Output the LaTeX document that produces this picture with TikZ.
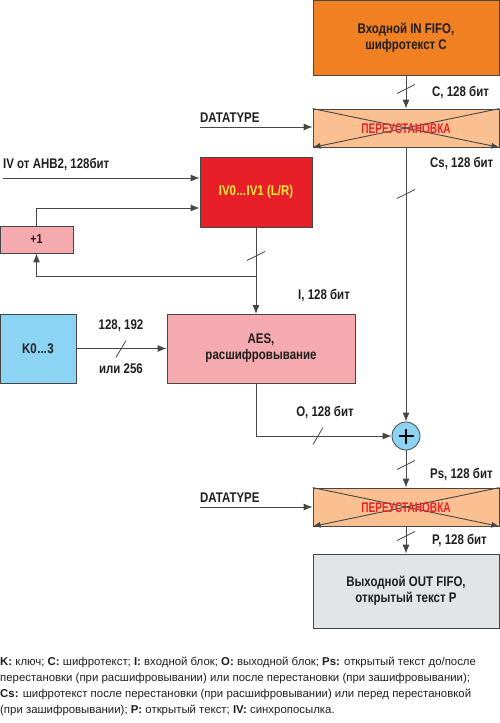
\documentclass[tikz,border=0pt]{standalone}
\usepackage{fontspec}
\setmainfont{Liberation Sans}
\newfontfamily\condfont{Liberation Sans}[FakeStretch=0.82]
\newfontfamily\ncondfont{Liberation Sans}[FakeStretch=0.72]
\usetikzlibrary{arrows.meta}
\definecolor{cOrange}{RGB}{240,128,34}
\definecolor{cPeach}{RGB}{250,192,145}
\definecolor{cRed}{RGB}{232,30,40}
\definecolor{cPink}{RGB}{245,170,175}
\definecolor{cBlue}{RGB}{140,212,244}
\definecolor{cGray}{RGB}{226,229,231}
\definecolor{cLine}{RGB}{70,70,70}
\definecolor{cYel}{RGB}{255,236,60}
\definecolor{cTxtRed}{RGB}{230,35,40}
\definecolor{cTxt}{RGB}{30,30,30}
\tikzset{
  blk/.style={draw=cLine, line width=0.8pt, inner sep=0pt, align=center, text=cTxt, font=\condfont\bfseries\fontsize{14}{16}\selectfont},
  lab/.style={font=\condfont\bfseries\fontsize{14}{16}\selectfont, inner sep=0pt, text=cTxt},
  conn/.style={draw=cLine, line width=0.9pt, -{Latex[length=9pt,width=7pt]}},
  wire/.style={draw=cLine, line width=0.9pt},
  slashv/.style={draw=cLine, line width=0.8pt},
}
\begin{document}
\begin{tikzpicture}[x=1pt,y=-1pt]
\useasboundingbox (0,0) rectangle (500,723);
% blocks
\node[blk, fill=cOrange, minimum width=186pt, minimum height=75pt] (inf) at (406,37.5) {Входной IN FIFO,\\шифротекст C};
\node[blk, fill=cPeach, minimum width=186pt, minimum height=38pt] (perm1) at (406,128) {};
\node[blk, fill=cRed, minimum width=112pt, minimum height=70pt, text=cYel] (iv) at (256,192) {IV0\kern0.5pt...\kern0.5pt IV1 (L/R)};
\node[blk, fill=cPink, minimum width=73pt, minimum height=27pt, font=\condfont\bfseries\fontsize{13}{15}\selectfont] (inc) at (36.5,239.5) {+1};
\node[blk, fill=cBlue, minimum width=76pt, minimum height=69pt] (key) at (38,348.5) {K0\kern0.5pt...\kern0.5pt3};
\node[blk, fill=cPink, minimum width=188pt, minimum height=69pt] (aes) at (261,348.5) {AES,\\расшифровывание};
\node[circle, draw=cLine, line width=0.8pt, fill=cBlue, minimum size=28pt, inner sep=0pt] (xor) at (406,436) {};
\draw[line width=2.4pt, black] ([xshift=-7.5pt]xor.center) -- ([xshift=7.5pt]xor.center) ([yshift=-7.5pt]xor.center) -- ([yshift=7.5pt]xor.center);
\node[blk, fill=cPeach, minimum width=186pt, minimum height=38pt] (perm2) at (406,507) {};
\node[blk, fill=cGray, minimum width=186pt, minimum height=74pt] (outf) at (406,591) {Выходной OUT FIFO,\\открытый текст P};
% permutation crosses
\foreach \p in {perm1,perm2}{
  \draw[wire, -{Latex[length=8pt,width=6pt]}] (\p.north west) -- (\p.south east);
  \draw[wire, -{Latex[length=8pt,width=6pt]}] (\p.north east) -- (\p.south west);
  \node[font=\ncondfont\bfseries\fontsize{14}{16}\selectfont, text=cTxtRed, inner sep=0pt] (\p t) at ([yshift=-1pt]\p.center) {ПЕРЕУСТАНОВКА};
}
% main data path
\draw[conn] (inf.south -| perm1.north) -- (perm1.north);
\draw[conn] (perm1.south) -- (xor.north);
\draw[conn] (xor.south) -- (perm2.north);
\draw[conn] (perm2.south) -- (outf.north);
% datatype
\coordinate (dt1) at (200,127);
\coordinate (dt2) at (200,507);
\draw[conn] (dt1) -- (dt1 -| perm1.west);
\draw[conn] (dt2) -- (dt2 -| perm2.west);
\node[lab, anchor=south west] (dt1l) at (200,123) {DATATYPE};
\node[lab, anchor=south west] (dt2l) at (200,503) {DATATYPE};
% IV inputs
\coordinate (ivin) at (3,178);
\draw[conn] (ivin) -- (ivin -| iv.west);
\node[lab, anchor=south west] (ivl) at (3,171) {IV от AHB2, 128бит};
\coordinate (fb1) at (inc.north |- 0,208);
\draw[conn] (inc.north) -- (fb1) -- (fb1 -| iv.west);
% IV down to AES
\coordinate (br) at (256,276);
\draw[conn] (iv.south) -- (256,314);
\draw[conn] (br) -- (br -| inc.south) -- (inc.south);
% key
\draw[conn] (key.east) -- (aes.west);
\node[lab] (kl1) at (121,326) {128, 192};
\node[lab] (kl2) at (121,369) {или 256};
% AES output
\coordinate (ao) at (256,436);
\draw[conn] (256,383) -- (ao) -- (xor.west);
\node[lab] (ol) at (325,412) {O, 128 бит};
% slashes
\foreach \yy in {89,194,465,536}{ \draw[slashv] (397,\yy+4.5) -- (415,\yy-4.5); }
\draw[slashv] (247,260.5) -- (265,251.5);
\draw[slashv] (116,357.5) -- (126,340.5);
\draw[slashv] (313,444.5) -- (323,427.5);
% labels
\node[lab, anchor=west] (cl) at (432,92) {C, 128 бит};
\node[lab, anchor=west] (csl) at (430,163) {Cs, 128 бит};
\node[lab, anchor=west] (il) at (298,295) {I, 128 бит};
\node[lab, anchor=west] (psl) at (430,474) {Ps, 128 бит};
\node[lab, anchor=west] (pl) at (432,540) {P, 128 бит};
% caption
\node[anchor=north west, align=left, inner sep=0pt, text=cTxt, font=\fontsize{11.4}{16}\selectfont] (cap) at (0,657) {%
\textbf{K:} ключ; \textbf{C:} шифротекст; \textbf{I:} входной блок; \textbf{O:} выходной блок; \textbf{Ps:} открытый текст до/после\\
перестановки (при расшифровывании) или после перестановки (при зашифровывании);\\
\textbf{Cs:} шифротекст после перестановки (при расшифровывании) или перед перестановкой\\
(при зашифровывании); \textbf{P:} открытый текст; \textbf{IV:} синхропосылка.};
\end{tikzpicture}
\end{document}
